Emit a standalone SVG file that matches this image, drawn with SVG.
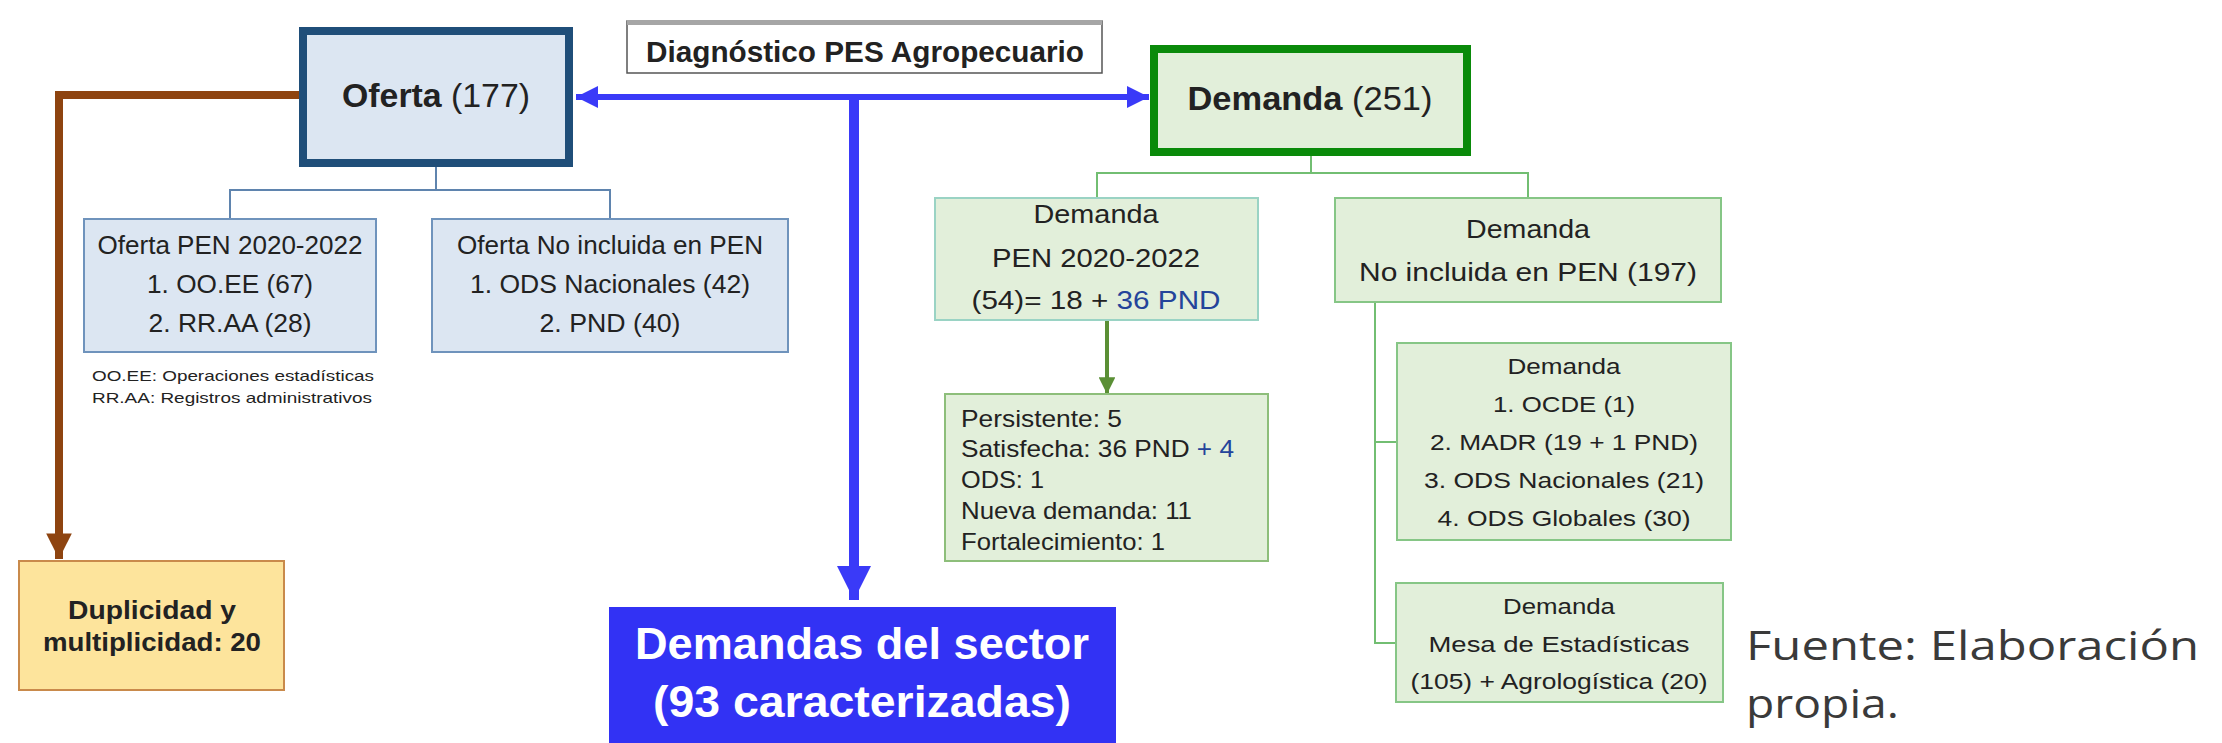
<svg xmlns="http://www.w3.org/2000/svg" width="2222" height="743" viewBox="0 0 2222 743">
<style>
text{font-family:"Liberation Sans",Arial,sans-serif;fill:#222;}
.b{font-weight:bold;}
.c{text-anchor:middle;}
.lb{fill:#DCE6F2;stroke:#6F93BC;stroke-width:2;}
.lg{fill:#E2EFDA;stroke:#86C686;stroke-width:2;}
.f23{font-size:25px;}
.f20{font-size:21.5px;}
.f22{font-size:24px;}
.bl{fill:#24449A;}
.cb{fill:none;stroke:#5F84AE;stroke-width:2;}
.cg{fill:none;stroke:#72BE72;stroke-width:2;}
.w{fill:#FFFFFF;}
.fu{font-family:"Open Sans","Liberation Sans",sans-serif;font-size:41px;fill:#3A3A3A;}
</style>
<defs>
<marker id="mb" viewBox="0 0 10 10" refX="10" refY="5" markerWidth="3.7" markerHeight="4" markerUnits="strokeWidth" orient="auto-start-reverse"><path d="M0,0L10,5L0,10z" fill="#3A3AF8"/></marker>
<marker id="mbv" viewBox="0 0 10 10" refX="10" refY="5" markerWidth="3.5" markerHeight="3.4" markerUnits="strokeWidth" orient="auto"><path d="M0,0L10,5L0,10z" fill="#3A3AF8"/></marker>
<marker id="mr" viewBox="0 0 10 10" refX="10" refY="5" markerWidth="3.2" markerHeight="3.2" markerUnits="strokeWidth" orient="auto"><path d="M0,0L10,5L0,10z" fill="#8E4410"/></marker>
<marker id="mg" viewBox="0 0 10 10" refX="10" refY="5" markerWidth="4.2" markerHeight="4.2" markerUnits="strokeWidth" orient="auto"><path d="M0,0L10,5L0,10z" fill="#5A8F35"/></marker>
</defs>
<rect width="2222" height="743" fill="#FFFFFF"/>

<g id="connectors">
<path d="M299,95H59V559" fill="none" stroke="#8E4410" stroke-width="8" marker-end="url(#mr)"/>
<path d="M576,97H1149" fill="none" stroke="#3A3AF8" stroke-width="6" marker-start="url(#mb)" marker-end="url(#mb)"/>
<path d="M854,97V600" fill="none" stroke="#3A3AF8" stroke-width="10" marker-end="url(#mbv)"/>
<path class="cb" d="M436,167V190M230,219V190H610V219"/>
<path class="cg" d="M1311,156V173M1097,198V173H1528V198"/>
<path d="M1107,321V394" fill="none" stroke="#5A8F35" stroke-width="4" marker-end="url(#mg)"/>
<path class="cg" d="M1375,302V643H1396M1375,442H1397"/>
</g>

<g id="diagnostico">
<rect x="627" y="21" width="475" height="52" fill="#FFFFFF" stroke="#555555" stroke-width="1.5"/>
<rect x="627" y="20" width="475" height="5" fill="#A6A6A6"/>
<text class="b c" x="865" y="62" font-size="29" textLength="438" lengthAdjust="spacingAndGlyphs">Diagnóstico PES Agropecuario</text>
</g>

<g id="oferta">
<rect x="303" y="31" width="266" height="132" fill="#DCE6F2" stroke="#1F4E79" stroke-width="8"/>
<text class="c" x="436" y="107" font-size="34" textLength="188" lengthAdjust="spacingAndGlyphs"><tspan class="b">Oferta</tspan> (177)</text>
</g>

<g id="demanda">
<rect x="1154" y="49" width="313" height="103" fill="#E2EFDA" stroke="#0A8A0A" stroke-width="8"/>
<text class="c" x="1310" y="110" font-size="34" textLength="245" lengthAdjust="spacingAndGlyphs"><tspan class="b">Demanda</tspan> (251)</text>
</g>

<g id="oferta-pen">
<rect class="lb" x="84" y="219" width="292" height="133"/>
<text class="c f23" x="230" y="254" textLength="265" lengthAdjust="spacingAndGlyphs">Oferta PEN 2020-2022</text>
<text class="c f23" x="230" y="293" textLength="166" lengthAdjust="spacingAndGlyphs">1. OO.EE (67)</text>
<text class="c f23" x="230" y="332" textLength="163" lengthAdjust="spacingAndGlyphs">2. RR.AA (28)</text>
</g>

<g id="oferta-no-pen">
<rect class="lb" x="432" y="219" width="356" height="133"/>
<text class="c f23" x="610" y="254" textLength="306" lengthAdjust="spacingAndGlyphs">Oferta No incluida en PEN</text>
<text class="c f23" x="610" y="293" textLength="280" lengthAdjust="spacingAndGlyphs">1. ODS Nacionales (42)</text>
<text class="c f23" x="610" y="332" textLength="141" lengthAdjust="spacingAndGlyphs">2. PND (40)</text>
</g>

<g id="nota">
<text x="92" y="381" font-size="15" fill="#333" textLength="282" lengthAdjust="spacingAndGlyphs">OO.EE: Operaciones estadísticas</text>
<text x="92" y="403" font-size="15" fill="#333" textLength="280" lengthAdjust="spacingAndGlyphs">RR.AA: Registros administrativos</text>
</g>

<g id="duplicidad">
<rect x="19" y="561" width="265" height="129" fill="#FDE49C" stroke="#C98A4B" stroke-width="2"/>
<text class="b c" x="152" y="619" font-size="25" textLength="168" lengthAdjust="spacingAndGlyphs">Duplicidad y</text>
<text class="b c" x="152" y="651" font-size="25" textLength="218" lengthAdjust="spacingAndGlyphs">multiplicidad: 20</text>
</g>

<g id="demandas-sector">
<rect x="609" y="607" width="507" height="136" fill="#3232F4"/>
<text class="b c w" x="862" y="659" font-size="44" textLength="454" lengthAdjust="spacingAndGlyphs">Demandas del sector</text>
<text class="b c w" x="862" y="717" font-size="44" textLength="418" lengthAdjust="spacingAndGlyphs">(93 caracterizadas)</text>
</g>

<g id="demanda-pen">
<rect x="935" y="198" width="323" height="122" fill="#E2EFDA" stroke="#9AD3C4" stroke-width="2"/>
<text class="c f23" x="1096" y="223" textLength="125" lengthAdjust="spacingAndGlyphs">Demanda</text>
<text class="c f23" x="1096" y="267" textLength="208" lengthAdjust="spacingAndGlyphs">PEN 2020-2022</text>
<text class="c f23" x="1096" y="309" textLength="249" lengthAdjust="spacingAndGlyphs">(54)= 18 + <tspan class="bl">36 PND</tspan></text>
</g>

<g id="demanda-no-pen">
<rect class="lg" x="1335" y="198" width="386" height="104"/>
<text class="c f23" x="1528" y="238" textLength="124" lengthAdjust="spacingAndGlyphs">Demanda</text>
<text class="c f23" x="1528" y="281" textLength="338" lengthAdjust="spacingAndGlyphs">No incluida en PEN (197)</text>
</g>

<g id="persistente">
<rect x="945" y="394" width="323" height="167" fill="#E2EFDA" stroke="#8DBE7A" stroke-width="2"/>
<text class="f22" x="961" y="427" textLength="161" lengthAdjust="spacingAndGlyphs">Persistente: 5</text>
<text class="f22" x="961" y="457" textLength="273" lengthAdjust="spacingAndGlyphs">Satisfecha: 36 PND <tspan class="bl">+ 4</tspan></text>
<text class="f22" x="961" y="488" textLength="83" lengthAdjust="spacingAndGlyphs">ODS: 1</text>
<text class="f22" x="961" y="519" textLength="231" lengthAdjust="spacingAndGlyphs">Nueva demanda: 11</text>
<text class="f22" x="961" y="550" textLength="204" lengthAdjust="spacingAndGlyphs">Fortalecimiento: 1</text>
</g>

<g id="demanda-ocde">
<rect class="lg" x="1397" y="343" width="334" height="197"/>
<text class="c f20" x="1564" y="374" textLength="113" lengthAdjust="spacingAndGlyphs">Demanda</text>
<text class="c f20" x="1564" y="412" textLength="142" lengthAdjust="spacingAndGlyphs">1. OCDE (1)</text>
<text class="c f20" x="1564" y="450" textLength="268" lengthAdjust="spacingAndGlyphs">2. MADR (19 + 1 PND)</text>
<text class="c f20" x="1564" y="488" textLength="280" lengthAdjust="spacingAndGlyphs">3. ODS Nacionales (21)</text>
<text class="c f20" x="1564" y="526" textLength="253" lengthAdjust="spacingAndGlyphs">4. ODS Globales (30)</text>
</g>

<g id="demanda-mesa">
<rect class="lg" x="1396" y="583" width="327" height="119"/>
<text class="c f20" x="1559" y="614" textLength="112" lengthAdjust="spacingAndGlyphs">Demanda</text>
<text class="c f20" x="1559" y="652" textLength="261" lengthAdjust="spacingAndGlyphs">Mesa de Estadísticas</text>
<text class="c f20" x="1559" y="689" textLength="297" lengthAdjust="spacingAndGlyphs">(105) + Agrologística (20)</text>
</g>

<g id="fuente">
<text class="fu" x="1746" y="660" textLength="453" lengthAdjust="spacingAndGlyphs">Fuente: Elaboración</text>
<text class="fu" x="1746" y="718" textLength="153" lengthAdjust="spacingAndGlyphs">propia.</text>
</g>
</svg>
